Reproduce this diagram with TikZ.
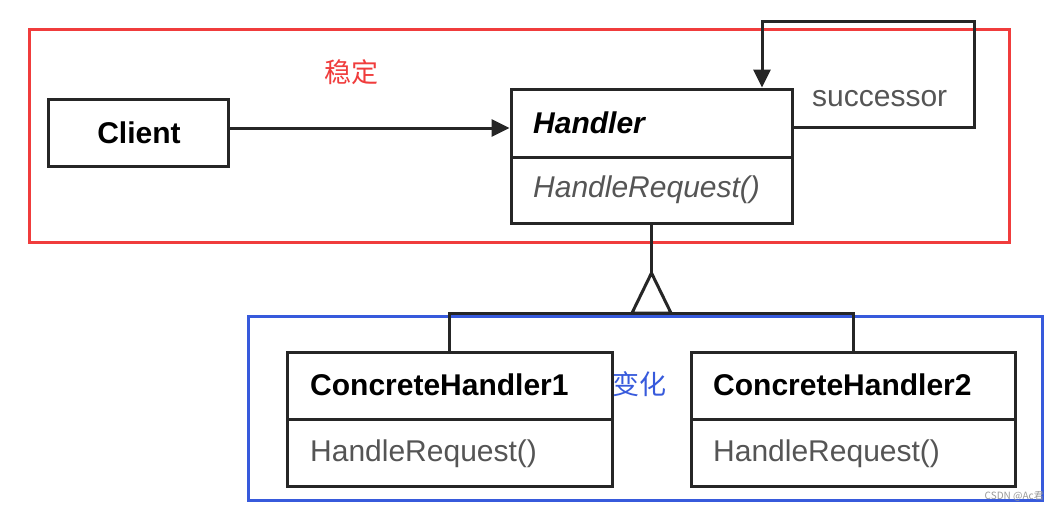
\documentclass[tikz,border=0pt]{standalone}
\usepackage{fontspec}
\setmainfont{Liberation Sans}
\newfontfamily\cjk{Noto Sans CJK SC}
\usetikzlibrary{arrows.meta}
\definecolor{fraRed}{RGB}{240,60,60}
\definecolor{fraBlue}{RGB}{55,90,220}
\definecolor{methGray}{RGB}{85,85,85}
\tikzset{
  classbox/.style={draw=black!85, line width=3pt, rectangle, inner sep=0pt},
  conn/.style={draw=black!85, line width=3pt},
  bigtxt/.style={font=\fontsize{30}{34}\selectfont, inner sep=0pt, anchor=west},
  cjktxt/.style={font=\cjk\fontsize{27}{31}\selectfont, inner sep=0pt},
  frame/.style={line width=3pt},
  tip/.style={-{Triangle[length=18pt,width=17pt]}}
}
\begin{document}
\begin{tikzpicture}[x=1pt,y=-1pt]
\useasboundingbox[fill=white] (0,0) rectangle (1061,512);
% frames
\draw[frame, draw=fraRed] (29,29) rectangle (1009,242);
\draw[frame, draw=fraBlue] (248,316) rectangle (1042,500);
\node[cjktxt, text=fraRed] (stable) at (351,72) {稳定};
\node[cjktxt, text=fraBlue] (change) at (639,384) {变化};
% classes
\node[classbox, minimum width=180, minimum height=67] (client) at (138.5,133) {};
\node[font=\fontsize{30}{34}\selectfont\bfseries, inner sep=0pt] (clientname) at (139,133) {Client};
\node[classbox, minimum width=281, minimum height=134] (handler) at (651.5,156) {};
\draw[conn] (511,157) -- (792,157);
\node[bigtxt, font=\fontsize{30}{34}\selectfont\bfseries\itshape] (hname) at (533,123) {Handler};
\node[bigtxt, font=\fontsize{30}{34}\selectfont\itshape, text=methGray] (hmeth) at (533,190) {HandleRequest()};
\node[classbox, minimum width=325, minimum height=134] (ch1) at (449.5,419) {};
\draw[conn] (287,419) -- (612,419);
\node[bigtxt, font=\fontsize{30}{34}\selectfont\bfseries] (ch1name) at (310,385) {ConcreteHandler1};
\node[bigtxt, text=methGray] (ch1meth) at (310,454) {HandleRequest()};
\node[classbox, minimum width=324, minimum height=134] (ch2) at (853,419) {};
\draw[conn] (691,419) -- (1015,419);
\node[bigtxt, font=\fontsize{30}{34}\selectfont\bfseries] (ch2name) at (713,385) {ConcreteHandler2};
\node[bigtxt, text=methGray] (ch2meth) at (713,454) {HandleRequest()};
% client -> handler
\coordinate (cy) at (0,128);
\draw[conn, tip] (client.east |- cy) -- (handler.west |- cy);
% successor loop
\coordinate (s1) at (974,127);
\coordinate (s2) at (974,21);
\coordinate (s3) at (762,21);
\draw[conn, tip] (handler.east |- s1) -- (s1) -- (s2) -- (s3) -- (handler.north -| s3);
\node[bigtxt, text=methGray] (succ) at (812,99) {successor};
% inheritance
\coordinate (apex) at (651.5,273);
\coordinate (bl) at (632,313);
\coordinate (br) at (671,313);
\coordinate (hl) at (449.5,313);
\coordinate (hr) at (853,313);
\draw[conn] (handler.south) -- (apex);
\draw[conn, line join=miter] (apex) -- (bl) -- (br) -- cycle;
\draw[conn] (ch1.north) -- (hl) -- (hr) -- (ch2.north);
% watermark
\node[font=\cjk\fontsize{10}{12}\selectfont, text=black!40, inner sep=0pt, anchor=east] (wm) at (1044,496) {CSDN @Ac君};
\end{tikzpicture}
\end{document}
